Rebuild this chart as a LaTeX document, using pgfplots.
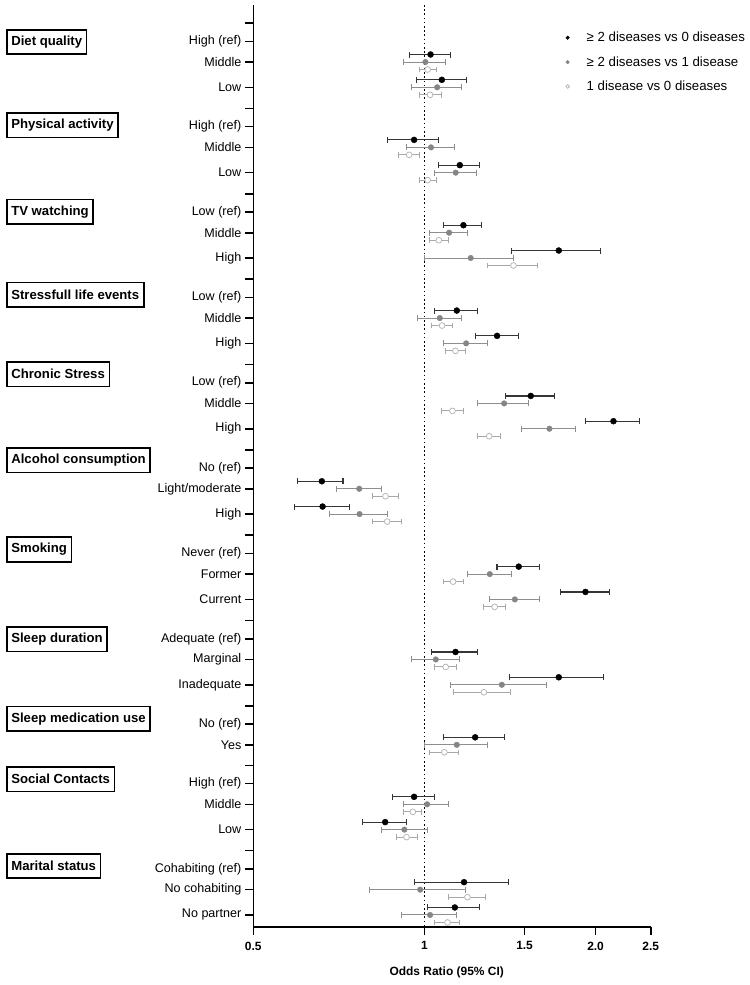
\documentclass[border=0pt]{standalone}
\usepackage{pgfplots}
\pgfplotsset{compat=1.18}
\usepackage{pgfplotstable}
\usepackage{fontspec}
\setmainfont{Liberation Sans}

% y = vertical position (top to bottom), or = odds ratio, lo/hi = 95% CI
\pgfplotstableread{
y      or     lo     hi
54.5   1.025  0.941  1.110
79.8   1.073  0.969  1.184
139.85 0.959  0.860  1.060
165.15 1.154  1.060  1.251
225.2  1.171  1.081  1.260
250.5  1.723  1.421  2.040
310.55 1.140  1.040  1.241
335.85 1.342  1.231  1.462
395.9  1.538  1.390  1.693
421.2  2.150  1.922  2.386
481.25 0.660  0.599  0.719
506.55 0.662  0.591  0.739
566.6  1.465  1.342  1.591
591.9  1.920  1.733  2.113
651.95 1.134  1.030  1.241
677.25 1.723  1.409  2.062
737.3  1.228  1.080  1.381
796.8  0.959  0.880  1.040
822.1  0.853  0.779  0.930
882.15 1.174  0.960  1.404
907.45 1.131  1.011  1.251
}\twovszero

\pgfplotstableread{
y      or     lo     hi
62     1.004  0.920  1.090
87.3   1.053  0.950  1.160
147.35 1.027  0.930  1.131
172.65 1.135  1.041  1.233
232.7  1.105  1.020  1.192
258    1.206  1.000  1.432
318.05 1.064  0.971  1.160
343.35 1.184  1.081  1.291
403.4  1.381  1.241  1.522
428.7  1.659  1.481  1.843
488.75 0.768  0.699  0.840
514.05 0.769  0.681  0.860
574.1  1.303  1.190  1.421
599.4  1.442  1.301  1.591
659.45 1.047  0.950  1.151
684.75 1.368  1.110  1.641
744.8  1.140  1.000  1.289
804.3  1.011  0.920  1.101
829.6  0.922  0.840  1.011
889.65 0.983  0.800  1.182
914.95 1.023  0.910  1.140
}\twovsone

\pgfplotstableread{
y      or     lo     hi
69.5   1.013  0.980  1.049
94.8   1.023  0.980  1.070
154.85 0.940  0.900  0.981
180.15 1.013  0.980  1.049
240.2  1.060  1.020  1.101
265.5  1.434  1.289  1.579
325.55 1.074  1.030  1.119
350.85 1.134  1.090  1.179
410.9  1.120  1.070  1.171
436.2  1.300  1.241  1.360
496.25 0.854  0.809  0.899
521.55 0.860  0.811  0.910
581.6  1.123  1.079  1.170
606.9  1.329  1.272  1.390
666.95 1.090  1.040  1.140
692.25 1.272  1.125  1.415
752.3  1.084  1.019  1.149
811.8  0.954  0.920  0.988
837.1  0.930  0.892  0.971
897.15 1.190  1.101  1.282
922.45 1.098  1.041  1.154
}\onevszero

\definecolor{barblack}{HTML}{353535}
\definecolor{dotgray}{HTML}{858585}
\definecolor{bargray}{HTML}{8E8E8E}
\definecolor{barlight}{HTML}{A8A8A8}
\definecolor{edgelight}{HTML}{B8B8B8}

\begin{document}
\begin{tikzpicture}
\path[use as bounding box] (0,0) rectangle (750bp,-985bp);
\begin{axis}[
  at={(253.3bp,-926.7bp)}, anchor=south west,
  width=397.4bp, height=921.7bp, scale only axis,
  xmode=log, xmin=0.5, xmax=2.5,
  ymin=5, ymax=926.7, y dir=reverse,
  axis x line=bottom, axis y line=left,
  axis line style={-, line width=1.6bp, black},
  xtick={0.5,1,1.5,2,2.5},
  xticklabels={0.5,1,1.5,2.0,2.5},
  xminorticks=false, yminorticks=false,
  ytick={23,41.3,62,87.3,108.35,126.65,147.35,172.65,193.7,212,232.7,258,279.05,297.35,318.05,343.35,364.4,382.7,403.4,428.7,449.75,468.05,488.75,514.05,535.1,553.4,574.1,599.4,620.45,638.75,659.45,684.75,705.8,724.1,744.8,765.3,783.6,804.3,829.6,850.65,868.95,889.65,914.95},
  yticklabels={{},High (ref),Middle,Low,{},High (ref),Middle,Low,{},Low (ref),Middle,High,{},Low (ref),Middle,High,{},Low (ref),Middle,High,{},No (ref),Light/moderate,High,{},Never (ref),Former,Current,{},Adequate (ref),Marginal,Inadequate,{},No (ref),Yes,{},High (ref),Middle,Low,{},Cohabiting (ref),No cohabiting,No partner},
  tick align=outside,
  major tick length=8.5bp,
  tick style={line width=1.6bp, black},
  /pgf/number format/assume math mode=true,
  xticklabel style={font=\fontsize{12}{14}\selectfont\bfseries, yshift=-3bp},
  yticklabel style={font=\fontsize{12.6}{15}\selectfont},
  xlabel={Odds Ratio (95\% CI)},
  xlabel style={font=\fontsize{12}{14}\selectfont\bfseries, at={(axis description cs:0.4867,0)}, anchor=center, yshift=-45.6bp},
  clip=false,
  legend style={at={(0.786,0.9729)}, anchor=north west, draw=none, fill=none,
    font=\fontsize{13.3}{16}\selectfont, row sep=9.3bp, inner sep=0pt,
    cells={anchor=west}},
  legend image code/.code={\path[draw=none, fill=none] (-1.8bp,0bp) rectangle (17bp,0.1bp);
    \draw[#1, mark size=1.8bp] plot coordinates {(0bp,0bp)};},
]
\addplot[black, dash pattern=on 1.6bp off 2.6bp, line width=1.7bp, forget plot]
  coordinates {(1,5) (1,926.7)};

\addplot[only marks, mark=*, mark size=3bp, mark options={fill=black, draw=black},
  error bars/.cd, x dir=both, x explicit, error mark=|,
  error bar style={draw=barblack, line width=1.2bp},
  error mark options={draw=barblack, line width=1.2bp, mark size=3bp}]
  table[x=or, y=y, x error plus expr=\thisrow{hi}-\thisrow{or}, x error minus expr=\thisrow{or}-\thisrow{lo}] {\twovszero};
\addlegendentry{≥ 2 diseases vs 0 diseases}

\addplot[only marks, mark=*, mark size=2.8bp, mark options={fill=dotgray, draw=dotgray},
  error bars/.cd, x dir=both, x explicit, error mark=|,
  error bar style={draw=bargray, line width=1bp},
  error mark options={draw=bargray, line width=1bp, mark size=3bp}]
  table[x=or, y=y, x error plus expr=\thisrow{hi}-\thisrow{or}, x error minus expr=\thisrow{or}-\thisrow{lo}] {\twovsone};
\addlegendentry{≥ 2 diseases vs 1 disease}

\addplot[only marks, mark=*, mark size=2.9bp, mark options={fill=white, draw=edgelight, line width=0.8bp},
  error bars/.cd, x dir=both, x explicit, error mark=|,
  error bar style={draw=barlight, line width=1bp},
  error mark options={draw=barlight, line width=1bp, mark size=2.8bp}]
  table[x=or, y=y, x error plus expr=\thisrow{hi}-\thisrow{or}, x error minus expr=\thisrow{or}-\thisrow{lo}] {\onevszero};
\addlegendentry{1 disease vs 0 diseases}
\end{axis}

\tikzset{grp/.style={draw=black, line width=1.6bp, anchor=west, inner xsep=4.5bp, inner ysep=0pt,
  minimum height=24.5bp, font=\fontsize{13.2}{15}\selectfont\bfseries}}
\node[grp] at (6bp,-42bp) {Diet quality};
\node[grp] at (6bp,-125.3bp) {Physical activity};
\node[grp] at (6bp,-211.7bp) {TV watching};
\node[grp] at (6bp,-294.8bp) {Stressfull life events};
\node[grp] at (6bp,-374.2bp) {Chronic Stress};
\node[grp] at (6bp,-460.3bp) {Alcohol consumption};
\node[grp] at (6bp,-549.5bp) {Smoking};
\node[grp] at (6bp,-639.3bp) {Sleep duration};
\node[grp] at (6bp,-718.8bp) {Sleep medication use};
\node[grp] at (6bp,-779.2bp) {Social Contacts};
\node[grp] at (6bp,-866bp) {Marital status};
\end{tikzpicture}
\end{document}
